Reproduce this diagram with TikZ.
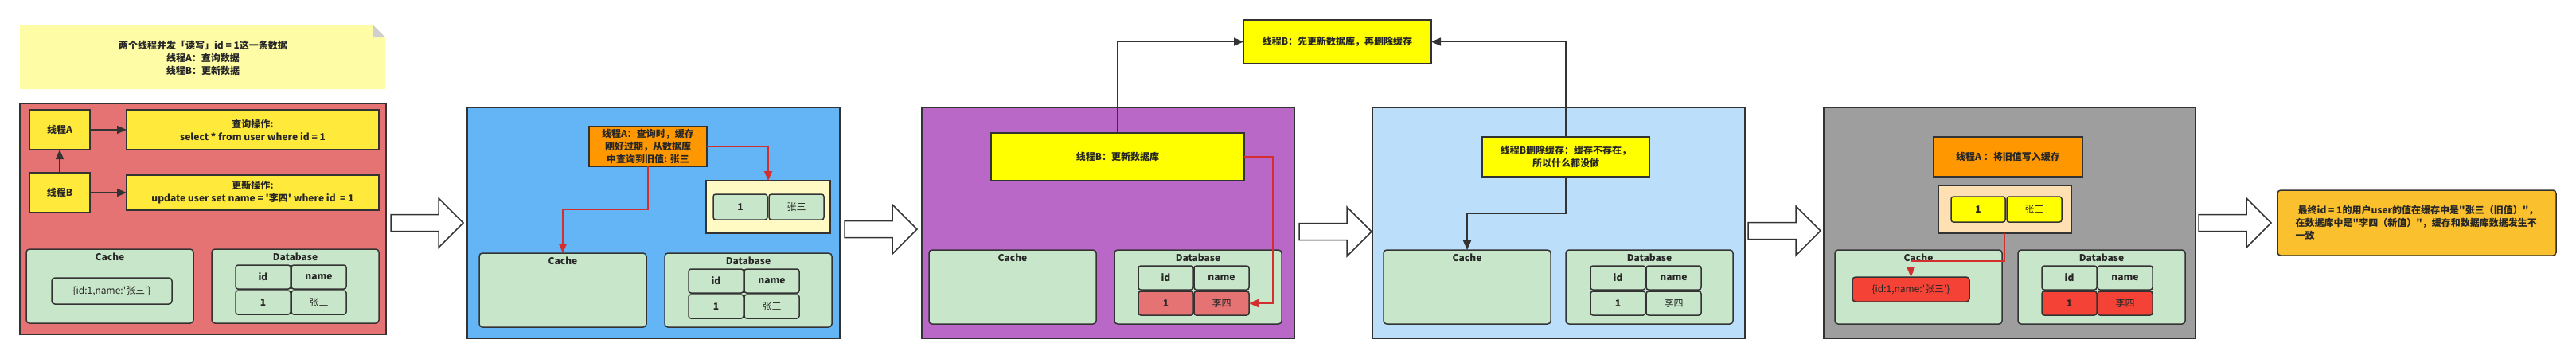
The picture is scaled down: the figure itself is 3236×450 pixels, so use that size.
\documentclass[tikz,border=0pt]{standalone}
\usepackage{fontspec}
\newfontfamily\cjk{Noto Sans CJK SC}
\usetikzlibrary{arrows.meta}
\definecolor{dk}{HTML}{333333}
\definecolor{txt}{HTML}{262626}
\definecolor{notebg}{HTML}{FFFCA6}
\definecolor{notefold}{HTML}{CFCFCF}
\definecolor{redp}{HTML}{E57373}
\definecolor{yel1}{HTML}{FFE93B}
\definecolor{grn}{HTML}{C8E6C9}
\definecolor{bluep}{HTML}{64B5F6}
\definecolor{orn}{HTML}{FF9800}
\definecolor{lyel}{HTML}{FFF9C4}
\definecolor{purp}{HTML}{BA68C8}
\definecolor{yel2}{HTML}{FFFF00}
\definecolor{lblue}{HTML}{BBDEFB}
\definecolor{grayp}{HTML}{9E9E9E}
\definecolor{peach}{HTML}{FFE0B2}
\definecolor{redc}{HTML}{F44336}
\definecolor{rarr}{HTML}{D32F2F}
\definecolor{fin}{HTML}{FBC02D}
\newcommand\myfb{\cjk\bfseries\fontsize{12}{16}\selectfont}
\newcommand\myfr{\cjk\mdseries\fontsize{12}{16}\selectfont}
\newcommand\mkbox[7][]{\node[inner sep=0pt,outer sep=0pt,minimum width={(#5)-(#3)},minimum height={(#6)-(#4)},#1] (#2) at ({((#3)+(#5))/2},{((#4)+(#6))/2}) {#7};}
\newcommand\barrow[2]{\draw[bigarr] (#1,{#2-10.5}) -- ({#1+60},{#2-10.5}) -- ({#1+60},{#2-31}) -- ({#1+91},#2) -- ({#1+60},{#2+31}) -- ({#1+60},{#2+10.5}) -- (#1,{#2+10.5}) -- cycle;}
\newcommand\cachebox[3]{\mkbox[cbox]{#1}{#2}{#3}{#2+210}{#3+93}{}\node[lbl] (#1l) at ([yshift=-10pt]#1.north) {Cache};}
\newcommand\dbbox[3]{\mkbox[cbox]{#1}{#2}{#3}{#2+210}{#3+93}{}\node[lbl] (#1l) at ([yshift=-10pt]#1.north) {Database};}
\newcommand\dbtab[6]{%
 \mkbox[cell]{#1a}{#2}{#3}{#2+69}{#3+30}{id}
 \mkbox[cell]{#1b}{#2+70}{#3}{#2+139}{#3+30}{name}
 \mkbox[cell,fill=#4]{#1c}{#2}{#3+32}{#2+69}{#3+62}{#5}
 \mkbox[cellv,fill=#4]{#1d}{#2+70}{#3+32}{#2+139}{#3+62}{#6}}
\tikzset{
 every node/.style={text=txt, font=\myfb},
 panel/.style={draw=dk, line width=2pt},
 sbox/.style={draw=dk, line width=1.6pt, align=center},
 cbox/.style={draw=dk, line width=1.5pt, fill=grn, rounded corners=4pt},
 cell/.style={draw=dk, line width=1.5pt, fill=grn, rounded corners=3pt},
 cellv/.style={cell, font=\myfr},
 conn/.style={draw=dk, line width=1.6pt, -{Triangle[length=12pt,width=10pt]}},
 rconn/.style={draw=rarr, line width=1.5pt, -{Triangle[length=12pt,width=10pt]}},
 bigarr/.style={draw=dk, line width=1.5pt, fill=white, line join=miter},
 lbl/.style={font=\myfb},
}
\begin{document}
\begin{tikzpicture}[x=1pt,y=-1pt]
\useasboundingbox (0,0) rectangle (3236,450);
% ---------- note ----------
\fill[notebg] (25,32) -- (469,32) -- (484,47) -- (484,112) -- (25,112) -- cycle;
\fill[notefold] (469,32) -- (484,47) -- (469,47) -- cycle;
\node[align=center] (note) at (255,73) {两个线程并发「读写」id = 1这一条数据\\线程A：查询数据\\线程B：更新数据};
% ---------- panel 1 ----------
\mkbox[panel,fill=redp]{p1}{25}{130}{485}{420}{}
\mkbox[sbox,fill=yel1]{tA}{37}{138}{113}{188}{线程A}
\mkbox[sbox,fill=yel1]{q}{159}{138}{476}{188}{查询操作:\\select * from user where id = 1}
\mkbox[sbox,fill=yel1]{tB}{37}{217}{113}{267}{线程B}
\mkbox[sbox,fill=yel1]{u}{159}{220}{476}{264}{更新操作:\\update user set name = '李四' where id \ = 1}
\draw[conn] (tA.east) -- (q.west);
\draw[conn] (tB.east) -- (u.west);
\draw[conn] (tB.north) -- (tA.south);
\cachebox{c1}{33}{313}
\mkbox[cellv,rounded corners=4pt]{e1}{65}{349}{216}{382}{\{id:1,name:'张三'\}}
\dbbox{d1}{266}{313}
\dbtab{t1}{296}{333}{grn}{1}{张三}
\barrow{491}{280}
% ---------- panel 2 ----------
\mkbox[panel,fill=bluep]{p2}{587}{135}{1055}{425}{}
\mkbox[sbox,fill=orn]{o2}{740}{159}{888}{209}{线程A：查询时，缓存\\刚好过期，从数据库\\中查询到旧值: 张三}
\mkbox[sbox,fill=lyel]{y2}{887}{227}{1043}{293}{}
\mkbox[cell]{y2a}{896}{244}{964}{276}{1}
\mkbox[cellv]{y2b}{966}{244}{1035}{276}{张三}
\cachebox{c2}{602}{318}
\dbbox{d2}{835}{318}
\dbtab{t2}{865}{338}{grn}{1}{张三}
\draw[rconn] (o2.east) -| (y2.north);
\draw[rconn] (o2.south) -- ++(0,54) -| (c2.north);
\barrow{1061}{288}
% ---------- panel 3 ----------
\mkbox[panel,fill=purp]{p3}{1158}{135}{1626}{425}{}
\mkbox[sbox,fill=yel2]{y3}{1245}{167}{1563}{227}{线程B：更新数据库}
\cachebox{c3}{1167}{314}
\dbbox{d3}{1400}{314}
\dbtab{t3}{1430}{334}{redp}{1}{李四}
\mkbox[sbox,fill=yel2]{top}{1562}{25}{1798}{80}{线程B：先更新数据库，再删除缓存}
\draw[conn] (y3.north) |- (top.west);
\draw[rconn] (y3.east) -- ++(36,0) |- (t3d.east);
\barrow{1632}{291}
% ---------- panel 4 ----------
\mkbox[panel,fill=lblue]{p4}{1724}{135}{2192}{425}{}
\mkbox[sbox,fill=yel2]{y4}{1862}{172}{2072}{222}{线程B删除缓存：缓存不存在，\\所以什么都没做}
\cachebox{c4}{1738}{314}
\dbbox{d4}{1967}{314}
\dbtab{t4}{1998}{334}{grn}{1}{李四}
\draw[conn] (y4.north) |- (top.east);
\draw[conn] (y4.south) -- ++(0,46) -| (c4.north);
\barrow{2196}{290}
% ---------- panel 5 ----------
\mkbox[panel,fill=grayp]{p5}{2291}{135}{2758}{425}{}
\mkbox[sbox,fill=orn]{o5}{2429}{172}{2616}{222}{线程A ：将旧值写入缓存}
\mkbox[sbox,fill=peach]{pb5}{2435}{233}{2602}{293}{}
\mkbox[cell,fill=yel2]{pb5a}{2451}{247}{2519}{279}{1}
\mkbox[cellv,fill=yel2]{pb5b}{2521}{247}{2590}{279}{张三}
\cachebox{c5}{2305}{314}
\mkbox[cellv,fill=redc,rounded corners=4pt]{e5}{2327}{348}{2474}{379}{\{id:1,name:'张三'\}}
\dbbox{d5}{2535}{314}
\dbtab{t5}{2565}{334}{redc}{1}{李四}
\draw[rconn] (pb5.south) -- ++(0,35) -| (e5.north);
\barrow{2762}{280}
% ---------- final ----------
\mkbox[draw=dk,line width=1.5pt,fill=fin,rounded corners=4pt,align=left]{fin}{2861}{239}{3211}{321}{\hspace{3pt}最终id = 1的用户user的值在缓存中是"张三（旧值）"，\\在数据库中是"李四（新值）"，缓存和数据库数据发生不\\一致}
\end{tikzpicture}
\end{document}
